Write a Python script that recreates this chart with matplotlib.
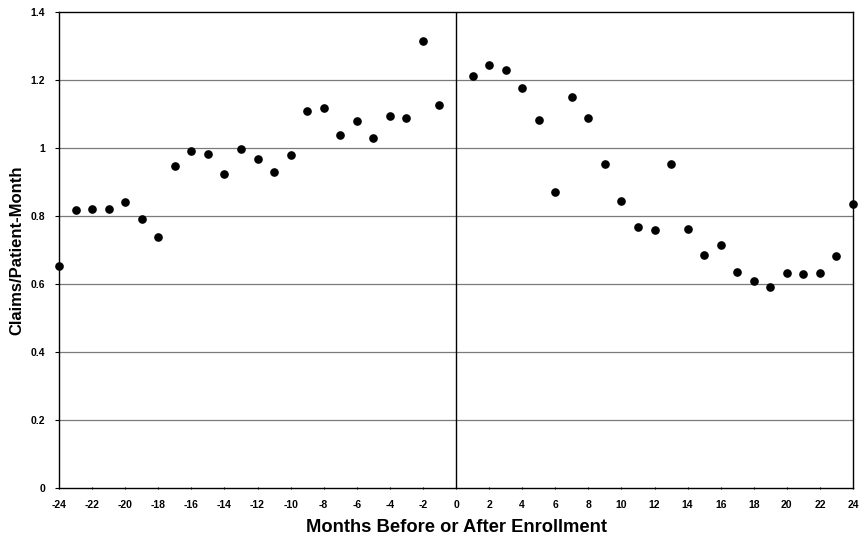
import matplotlib
matplotlib.use("Agg")
import matplotlib.pyplot as plt

plt.rcParams['font.family'] = ['Liberation Sans', 'DejaVu Sans']

# Monthly claims per patient, relative to enrollment month (no observation at month 0)
months_before = [-24, -23, -22, -21, -20, -19, -18, -17, -16, -15, -14, -13,
                 -12, -11, -10, -9, -8, -7, -6, -5, -4, -3, -2, -1]
claims_before = [0.654, 0.817, 0.820, 0.821, 0.840, 0.791, 0.738, 0.948,
                 0.991, 0.981, 0.923, 0.998, 0.968, 0.930, 0.978, 1.108,
                 1.118, 1.037, 1.080, 1.030, 1.094, 1.087, 1.316, 1.126]
months_after = [1, 2, 3, 4, 5, 6, 7, 8, 9, 10, 11, 12,
                13, 14, 15, 16, 17, 18, 19, 20, 21, 22, 23, 24]
claims_after = [1.212, 1.244, 1.228, 1.176, 1.082, 0.872, 1.150, 1.088,
                0.952, 0.845, 0.768, 0.760, 0.954, 0.763, 0.686, 0.714,
                0.635, 0.608, 0.591, 0.633, 0.628, 0.632, 0.681, 0.835]

x_ticks = list(range(-24, 25, 2))
y_ticks = [0, 0.2, 0.4, 0.6, 0.8, 1.0, 1.2, 1.4]
y_tick_labels = ['0', '0.2', '0.4', '0.6', '0.8', '1', '1.2', '1.4']

fig = plt.figure(figsize=(8.61, 5.39), dpi=100)
ax = fig.add_axes([59 / 861, 1 - 488 / 539, (853 - 59) / 861, (488 - 12) / 539])

ax.set_xlim(-24, 24)
ax.set_ylim(0, 1.4)

for yv in y_ticks[1:-1]:
    ax.axhline(yv, color='#7a7a7a', lw=0.9, zorder=1)
ax.axvline(0, color='black', lw=1.0, zorder=2)

ax.plot(months_before + months_after, claims_before + claims_after,
        linestyle='none', marker='o', markersize=5.2, color='black',
        clip_on=False, zorder=3)

ax.set_xticks(x_ticks)
ax.set_xticklabels([str(v) for v in x_ticks])
ax.set_yticks(y_ticks)
ax.set_yticklabels(y_tick_labels)
ax.tick_params(axis='both', labelsize=7.5, width=0.8)
ax.tick_params(axis='y', length=3, direction='out', pad=7)
ax.tick_params(axis='x', length=2, direction='inout', pad=8)
for lbl in ax.get_xticklabels() + ax.get_yticklabels():
    lbl.set_fontweight('bold')

for sp in ax.spines.values():
    sp.set_color('black')
    sp.set_linewidth(1.0)

ax.set_xlabel('Months Before or After Enrollment', fontsize=13.2,
              fontweight='bold', labelpad=6)
ax.set_ylabel('Claims/Patient-Month', fontsize=12, fontweight='bold',
              labelpad=4.5)

fig.savefig('out.png', dpi=100)
